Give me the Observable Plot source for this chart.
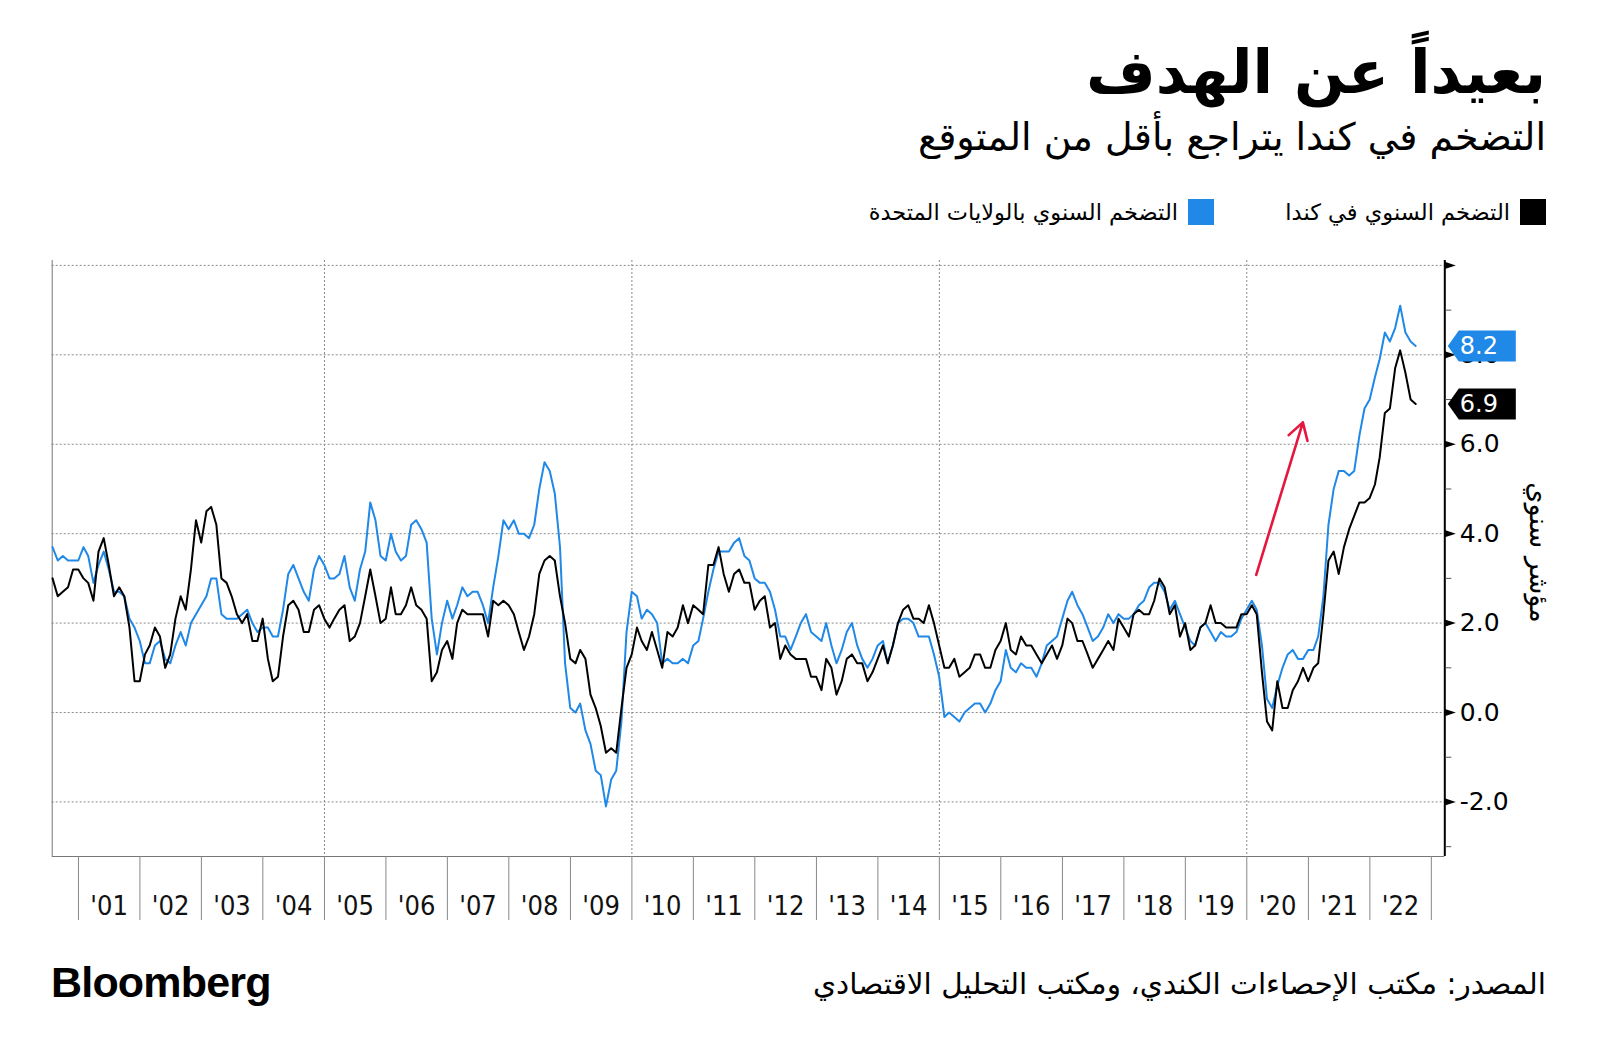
<!DOCTYPE html>
<html><head><meta charset="utf-8">
<script src="https://cdn.jsdelivr.net/npm/d3@7"></script>
<script src="https://cdn.jsdelivr.net/npm/@observablehq/plot@0.6"></script>
<style>
html,body{margin:0;padding:0;background:#fff;}
body{width:1600px;height:1063px;position:relative;overflow:hidden;font-family:"DejaVu Sans",sans-serif;color:#000;}
.ar{position:absolute;direction:rtl;white-space:nowrap;line-height:1;}
#title{right:54px;top:42px;font-size:60px;font-weight:bold;}
#subtitle{right:54px;top:118px;font-size:38px;}
.leg{position:absolute;top:199px;height:26px;display:flex;flex-direction:row-reverse;align-items:center;gap:10px;white-space:nowrap;}
.leg .sw{width:26px;height:26px;}
.leg .lt{direction:rtl;font-size:22.5px;line-height:1;}
#src{right:54px;top:970px;font-size:29.5px;}
#brand{position:absolute;left:51px;top:961px;font-family:"Liberation Sans",Arial,sans-serif;font-weight:bold;font-size:43px;letter-spacing:-0.8px;line-height:1;}
#chart{position:absolute;left:0;top:230px;}
</style></head>
<body>
<div id="title" class="ar">بعيداً عن الهدف</div>
<div id="subtitle" class="ar">التضخم في كندا يتراجع بأقل من المتوقع</div>
<div class="leg" style="right:54px"><div class="sw" style="background:#000"></div><div class="lt">التضخم السنوي في كندا</div></div>
<div class="leg" style="right:386px"><div class="sw" style="background:#2088e6"></div><div class="lt">التضخم السنوي بالولايات المتحدة</div></div>
<div id="chart"></div>
<div id="brand">Bloomberg</div>
<div id="src" class="ar">المصدر: مكتب الإحصاءات الكندي، ومكتب التحليل الاقتصادي</div>
<script>
// ---- data: monthly year-over-year inflation, Jul 2000 .. Sep 2022 ----
const firstMonth = [2000, 7]; // July 2000
const canada = [
  3.0,2.6,2.7,2.8,3.2,3.2,
  3.0,2.9,2.5,3.6,3.9,3.3,2.6,2.8,2.6,1.9,0.7,0.7,
  1.3,1.5,1.9,1.7,1.0,1.3,2.1,2.6,2.3,3.2,4.3,3.8,
  4.5,4.6,4.2,3.0,2.9,2.6,2.2,2.0,2.2,1.6,1.6,2.1,
  1.2,0.7,0.8,1.7,2.4,2.5,2.3,1.8,1.8,2.3,2.4,2.1,
  1.9,2.1,2.3,2.4,1.6,1.7,2.0,2.6,3.2,2.6,2.0,2.1,
  2.8,2.2,2.2,2.4,2.8,2.4,2.3,2.1,0.7,0.9,1.4,1.6,
  1.2,2.0,2.3,2.2,2.2,2.2,2.2,1.7,2.5,2.4,2.5,2.4,
  2.2,1.8,1.4,1.7,2.2,3.1,3.4,3.5,3.4,2.6,2.0,1.2,
  1.1,1.4,1.2,0.4,0.1,-0.3,-0.9,-0.8,-0.9,0.1,1.0,1.3,
  1.9,1.6,1.4,1.8,1.4,1.0,1.8,1.7,1.9,2.4,2.0,2.4,
  2.3,2.2,3.3,3.3,3.7,3.1,2.7,3.1,3.2,2.9,2.9,2.3,
  2.5,2.6,1.9,2.0,1.2,1.5,1.3,1.2,1.2,1.2,0.8,0.8,
  0.5,1.2,1.0,0.4,0.7,1.2,1.3,1.1,1.1,0.7,0.9,1.2,
  1.5,1.1,1.5,2.0,2.3,2.4,2.1,2.1,2.0,2.4,2.0,1.5,
  1.0,1.0,1.2,0.8,0.9,1.0,1.3,1.3,1.0,1.0,1.4,1.6,
  2.0,1.4,1.3,1.7,1.5,1.5,1.3,1.1,1.3,1.5,1.2,1.5,
  2.1,2.0,1.6,1.6,1.3,1.0,1.2,1.4,1.6,1.4,2.1,1.9,
  1.7,2.2,2.3,2.2,2.2,2.5,3.0,2.8,2.2,2.4,1.7,2.0,
  1.4,1.5,1.9,2.0,2.4,2.0,2.0,1.9,1.9,1.9,2.2,2.2,
  2.4,2.2,0.9,-0.2,-0.4,0.7,0.1,0.1,0.5,0.7,1.0,0.7,
  1.0,1.1,2.2,3.4,3.6,3.1,3.7,4.1,4.4,4.7,4.7,4.8,
  5.1,5.7,6.7,6.8,7.7,8.1,7.6,7.0,6.9
];
const us = [
  3.7,3.4,3.5,3.4,3.4,3.4,
  3.7,3.5,2.9,3.3,3.6,3.2,2.7,2.7,2.6,2.1,1.9,1.6,
  1.1,1.1,1.5,1.6,1.2,1.1,1.5,1.8,1.5,2.0,2.2,2.4,
  2.6,3.0,3.0,2.2,2.1,2.1,2.1,2.2,2.3,2.0,1.8,1.9,
  1.9,1.7,1.7,2.3,3.1,3.3,3.0,2.7,2.5,3.2,3.5,3.3,
  3.0,3.0,3.1,3.5,2.8,2.5,3.2,3.6,4.7,4.3,3.5,3.4,
  4.0,3.6,3.4,3.5,4.2,4.3,4.1,3.8,2.1,1.3,2.0,2.5,
  2.1,2.4,2.8,2.6,2.7,2.7,2.4,2.0,2.8,3.5,4.3,4.1,
  4.3,4.0,4.0,3.9,4.2,5.0,5.6,5.4,4.9,3.7,1.1,0.1,
  0.0,0.2,-0.4,-0.7,-1.3,-1.4,-2.1,-1.5,-1.3,-0.2,1.8,2.7,
  2.6,2.1,2.3,2.2,2.0,1.1,1.2,1.1,1.1,1.2,1.1,1.5,
  1.6,2.1,2.7,3.2,3.6,3.6,3.6,3.8,3.9,3.5,3.4,3.0,
  2.9,2.9,2.7,2.3,1.7,1.7,1.4,1.7,2.0,2.2,1.8,1.7,
  1.6,2.0,1.5,1.1,1.4,1.8,2.0,1.5,1.2,1.0,1.2,1.5,
  1.6,1.1,1.5,2.0,2.1,2.1,2.0,1.7,1.7,1.7,1.3,0.8,
  -0.1,0.0,-0.1,-0.2,0.0,0.1,0.2,0.2,0.0,0.2,0.5,0.7,
  1.4,1.0,0.9,1.1,1.0,1.0,0.8,1.1,1.5,1.6,1.7,2.1,
  2.5,2.7,2.4,2.2,1.9,1.6,1.7,1.9,2.2,2.0,2.2,2.1,
  2.1,2.2,2.4,2.5,2.8,2.9,2.9,2.7,2.3,2.5,2.2,1.9,
  1.6,1.5,1.9,2.0,1.8,1.6,1.8,1.7,1.7,1.8,2.1,2.3,
  2.5,2.3,1.5,0.3,0.1,0.6,1.0,1.3,1.4,1.2,1.2,1.4,
  1.4,1.7,2.6,4.2,5.0,5.4,5.4,5.3,5.4,6.2,6.8,7.0,
  7.5,7.9,8.5,8.3,8.6,9.1,8.5,8.3,8.2
];
const yearLabels = ["'01","'02","'03","'04","'05","'06","'07","'08","'09","'10","'11","'12","'13","'14","'15","'16","'17","'18","'19","'20","'21","'22"];
const labelYears = d3.range(2001, 2023);
const separatorYears = d3.range(2001, 2024);
const gridYears = [2005, 2010, 2015, 2020];
const gridValues = [-2, 0, 2, 4, 6, 8, 10];
const markerValues = [-2, 0, 2, 4, 6, 8, 10];
const labelValues = [-2, 0, 2, 4, 6, 8];
const minorValues = [-3, -1, 1, 3, 5, 7, 9];
const yTitle = "مؤشر سنوي";
const arrowFrom = {date: "2020-02-26", value: 3.08};
const arrowTo = {date: "2020-11-29", value: 6.49};
const xDomain = ["2000-07-29", "2023-03-22"];
const yDomain = [-3.22, 10.11];

const BLUE = "#2088e6", BLACK = "#000000", RED = "#e5173e";

// ---- build tables ----
function monthEnd(i) {
  const y = firstMonth[0], m = firstMonth[1] - 1 + i;
  return new Date(Date.UTC(y, m + 1, 0));
}
const caRows = canada.map((v, i) => ({date: monthEnd(i), value: v}));
const usRows = us.map((v, i) => ({date: monthEnd(i), value: v}));
const lastRows = [
  {value: us[us.length - 1], color: BLUE},
  {value: canada[canada.length - 1], color: BLACK}
];
const ymd = s => new Date(s + "T00:00:00Z");
const sepDates = separatorYears.map(y => new Date(Date.UTC(y, 0, 1)));
const midDates = labelYears.map(y => new Date(Date.UTC(y, 6, 2)));
const gridDates = gridYears.map(y => new Date(Date.UTC(y, 0, 1)));

const triRight = {draw(ctx) { ctx.moveTo(0, -3.6); ctx.lineTo(11, 0); ctx.lineTo(0, 3.6); ctx.closePath(); }};
const tag = {draw(ctx) { ctx.moveTo(0, 0); ctx.lineTo(11, -15.5); ctx.lineTo(68, -15.5); ctx.lineTo(68, 15.5); ctx.lineTo(11, 15.5); ctx.closePath(); }};

const chart = Plot.plot({
  width: 1600,
  height: 700,
  marginTop: 30,
  marginBottom: 74,
  marginLeft: 51.7,
  marginRight: 155.7,
  x: {type: "utc", domain: xDomain.map(ymd), label: null},
  y: {domain: yDomain, label: null},
  style: {fontFamily: "DejaVu Sans", background: "transparent", overflow: "visible"},
  marks: [
    Plot.ruleY(gridValues, {stroke: "#8a8a8a", strokeDasharray: "2,2", strokeWidth: 1}),
    Plot.ruleX(gridDates, {stroke: "#8a8a8a", strokeDasharray: "2,2", strokeWidth: 1}),
    Plot.ruleX([ymd(xDomain[0])], {stroke: "#777", strokeWidth: 1}),
    Plot.ruleY([yDomain[0]], {stroke: "#777", strokeWidth: 1}),
    Plot.axisX({ticks: sepDates, tickSize: 64, tickFormat: () => "", stroke: "#888", strokeWidth: 1, label: null}),
    Plot.axisX({ticks: midDates, tickSize: 0, tickPadding: 39, tickFormat: d => yearLabels[labelYears.indexOf(d.getUTCFullYear())], fontSize: 27, fontFamily: "DejaVu Sans Condensed", fill: "#111", label: null}),
    Plot.line(usRows, {x: "date", y: "value", stroke: BLUE, strokeWidth: 2}),
    Plot.line(caRows, {x: "date", y: "value", stroke: BLACK, strokeWidth: 2}),
    Plot.arrow([{a: arrowFrom, b: arrowTo}], {
      x1: d => ymd(d.a.date), y1: d => d.a.value,
      x2: d => ymd(d.b.date), y2: d => d.b.value,
      stroke: RED, strokeWidth: 2.6, headLength: 11, headAngle: 62
    }),
    Plot.ruleX([ymd(xDomain[1])], {stroke: "#000", strokeWidth: 2}),
    Plot.axisY({ticks: minorValues, anchor: "right", tickSize: 6, tickFormat: () => "", stroke: "#555", label: null}),
    Plot.dot(markerValues, {y: d => d, frameAnchor: "right", symbol: triRight, fill: "#000", stroke: null}),
    Plot.axisY({ticks: labelValues, anchor: "right", tickSize: 0, tickPadding: 15, tickFormat: d => d.toFixed(1), fontSize: 25, fill: "#000", label: null}),
    Plot.dot(lastRows, {y: "value", frameAnchor: "right", dx: 3, symbol: tag, fill: d => d.color, stroke: null}),
    Plot.text(lastRows, {y: "value", frameAnchor: "right", dx: 15, text: d => d.value.toFixed(1), textAnchor: "start", fill: "#fff", fontSize: 24}),
    Plot.text([yTitle], {frameAnchor: "right", dx: 94, dy: -6, rotate: 90, textAnchor: "middle", text: d => d, fontSize: 27, fill: "#000"})
  ]
});
document.getElementById("chart").appendChild(chart);
</script>
</body></html>
